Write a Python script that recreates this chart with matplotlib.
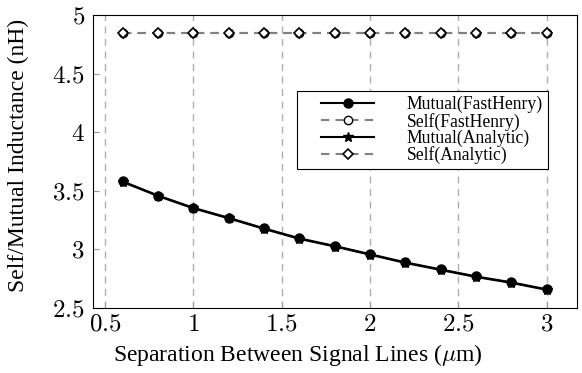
import numpy as np
import matplotlib
matplotlib.use("Agg")
import matplotlib.pyplot as plt
from matplotlib.ticker import FuncFormatter
from matplotlib.legend_handler import HandlerLine2D

# data
separation = [0.6, 0.8, 1.0, 1.2, 1.4, 1.6, 1.8, 2.0, 2.2, 2.4, 2.6, 2.8, 3.0]
mutual_fasthenry = [3.58, 3.46, 3.355, 3.27, 3.18, 3.095, 3.03, 2.96, 2.89, 2.83, 2.77, 2.72, 2.66]
self_fasthenry = [4.85] * 13
mutual_analytic = [3.575, 3.455, 3.35, 3.265, 3.175, 3.09, 3.025, 2.955, 2.885, 2.825, 2.765, 2.715, 2.655]
self_analytic = [4.85] * 13

plt.rcParams["font.family"] = ["Liberation Serif", "DejaVu Serif"]
plt.rcParams["mathtext.fontset"] = "cm"

fig = plt.figure(figsize=(5.82, 3.73), dpi=100)
ax = fig.add_axes([0.160, 0.174, 0.831, 0.786])

ax.plot(separation, mutual_fasthenry, color="black", lw=1.5, marker="o",
        ms=6.5, mfc="black", mec="black", label="Mutual(FastHenry)", zorder=3)
ax.plot(separation, self_fasthenry, color="#808080", lw=1.5, ls=(0, (4, 3)),
        marker="o", ms=6, mfc="white", mec="black", mew=1.0,
        label="Self(FastHenry)", zorder=3)
ax.plot(separation, mutual_analytic, color="black", lw=1.5, marker="*",
        ms=7, mfc="black", mec="black", label="Mutual(Analytic)", zorder=2)
ax.plot(separation, self_analytic, color="#808080", lw=1.5, ls=(0, (4, 3)),
        marker="D", ms=5, mfc="white", mec="black", mew=1.2,
        label="Self(Analytic)", zorder=4)

ax.set_xlim(0.432, 3.17)
ax.set_ylim(2.5, 5)
ax.set_xticks([0.5, 1, 1.5, 2, 2.5, 3])
ax.set_yticks([2.5, 3, 3.5, 4, 4.5, 5])
fmt = FuncFormatter(lambda v, p: "$%g$" % v)
ax.xaxis.set_major_formatter(fmt)
ax.yaxis.set_major_formatter(fmt)
ax.tick_params(direction="in", labelsize=18, color="#999999", length=4)
ax.tick_params(axis="y", pad=6)
ax.tick_params(axis="x", pad=4)
ax.grid(axis="x", color="#b0b0b0", ls=(0, (5, 4)), lw=1.0)

ax.set_xlabel(r"Separation Between Signal Lines ($\mu$m)", fontsize=17)
ax.set_ylabel("Self/Mutual Inductance (nH)", fontsize=17)
ax.xaxis.set_label_coords(0.424, -0.115)
ax.yaxis.set_label_coords(-0.133, 0.52)

hm = {h: HandlerLine2D(xpad=1.08) for h in ax.get_lines()}
leg = ax.legend(loc="upper left", bbox_to_anchor=(0.421, 0.741), fontsize=12.7,
                handlelength=4.1, handletextpad=1.85, labelspacing=-0.05,
                borderpad=0.3, borderaxespad=0, fancybox=False, framealpha=1,
                edgecolor="black", handler_map=hm)
leg.get_frame().set_linewidth(0.8)

fig.savefig("out.png", dpi=100)
